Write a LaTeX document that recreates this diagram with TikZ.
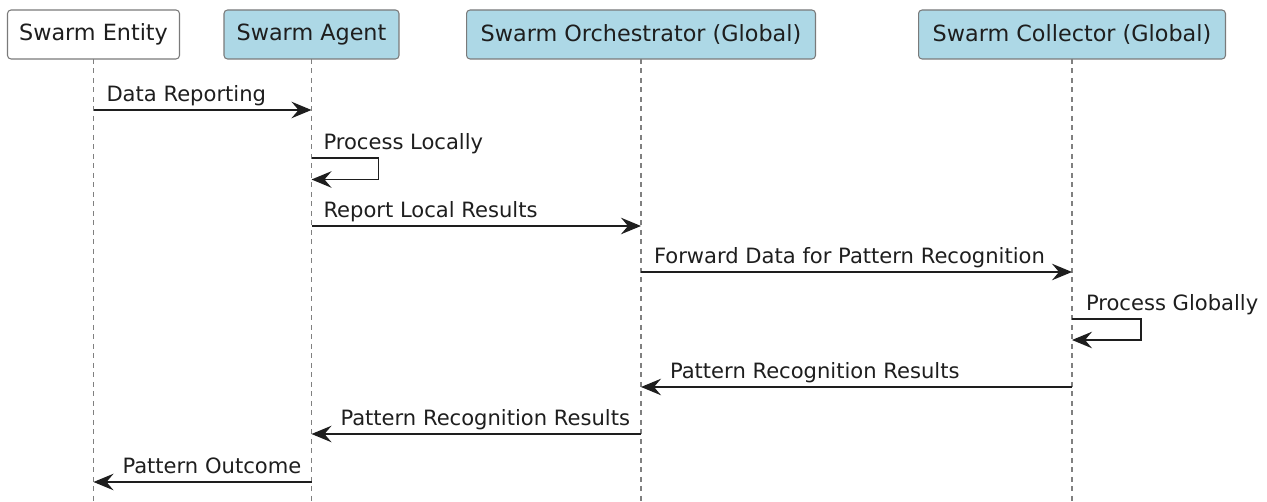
\documentclass[tikz,border=0pt]{standalone}
\usepackage{fontspec}
\setmainfont{DejaVu Sans}
\usetikzlibrary{arrows.meta}
\definecolor{partblue}{HTML}{ADD8E6}
\definecolor{partline}{HTML}{7A7A7A}
\definecolor{lifegray}{HTML}{808080}
\definecolor{inkgray}{HTML}{1E1E1E}

\begin{document}
\begin{tikzpicture}[x=0.02cm,y=0.02cm,inner sep=0pt,outer sep=0pt,
participant/.style={draw=partline,line width=0.6pt,rounded corners=2pt,fill=partblue,minimum height=0.98cm,text=inkgray,font=\fontsize{12.7}{15}\selectfont},
lifeline/.style={draw=lifegray,line width=0.7pt,dash pattern=on 0.1cm off 0.09cm},
msg/.style={draw=inkgray,line width=0.85pt,-{Stealth[length=0.4cm,width=0.33cm,inset=0.14cm]}},
msglabel/.style={anchor=base west,text=inkgray,font=\fontsize{12}{14}\selectfont}]

\useasboundingbox (0,0) rectangle (1267,-502);

\draw (93.5,-34.5) node[participant,fill=white,minimum width=3.44cm] (ent) {Swarm Entity};
\draw (311.5,-34.5) node[participant,minimum width=3.5cm] (agt) {Swarm Agent};
\draw (641,-34.5) node[participant,minimum width=6.98cm] (orch) {Swarm Orchestrator (Global)};
\draw (1072,-34.5) node[participant,minimum width=6.14cm] (coll) {Swarm Collector (Global)};

\coordinate (bot) at (0,-502);
\coordinate (m1) at (0,-110);
\coordinate (m2) at (0,-158);
\coordinate (m3) at (0,-226);
\coordinate (m4) at (0,-272);
\coordinate (m5) at (0,-319);
\coordinate (m6) at (0,-387);
\coordinate (m7) at (0,-434);
\coordinate (m8) at (0,-482);

\draw[lifeline] (ent.south) -- (ent.south |- bot);
\draw[lifeline] (agt.south) -- (agt.south |- bot);
\draw[lifeline] (orch.south) -- (orch.south |- bot);
\draw[lifeline] (coll.south) -- (coll.south |- bot);

\draw[msg] (ent |- m1) -- (agt |- m1);
\node[msglabel] (l1) at ([shift={(13,8)}]ent |- m1) {Data Reporting};

\draw[msg] (agt |- m2) -- ++(67,0) -- ++(0,-21.5) -- ++(-67,0);
\node[msglabel] (l2) at ([shift={(12,8)}]agt |- m2) {Process Locally};

\draw[msg] (agt |- m3) -- (orch |- m3);
\node[msglabel] (l3) at ([shift={(12,8)}]agt |- m3) {Report Local Results};

\draw[msg] (orch |- m4) -- (coll |- m4);
\node[msglabel] (l4) at ([shift={(13,8)}]orch |- m4) {Forward Data for Pattern Recognition};

\draw[msg] (coll |- m5) -- ++(69,0) -- ++(0,-21) -- ++(-69,0);
\node[msglabel] (l5) at ([shift={(14,8)}]coll |- m5) {Process Globally};

\draw[msg] (coll |- m6) -- (orch |- m6);
\node[msglabel] (l6) at ([shift={(29,8)}]orch |- m6) {Pattern Recognition Results};

\draw[msg] (orch |- m7) -- (agt |- m7);
\node[msglabel] (l7) at ([shift={(29,8)}]agt |- m7) {Pattern Recognition Results};

\draw[msg] (agt |- m8) -- (ent |- m8);
\node[msglabel] (l8) at ([shift={(29,8)}]ent |- m8) {Pattern Outcome};
\end{tikzpicture}
\end{document}
